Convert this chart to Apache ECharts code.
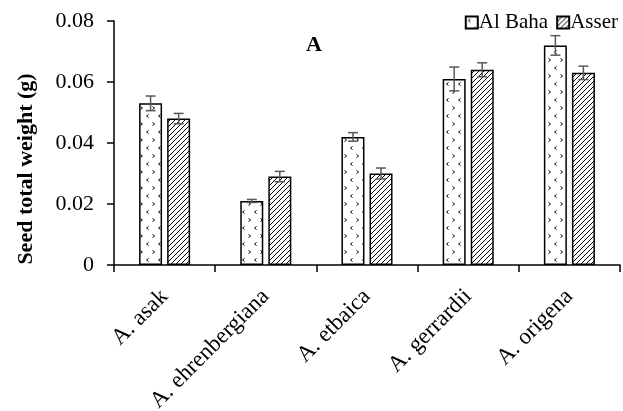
<!DOCTYPE html>
<html><head><meta charset="utf-8">
<script src="https://cdn.jsdelivr.net/npm/echarts@6/dist/echarts.min.js"></script>
<style>html,body{margin:0;padding:0;background:#fff}#c{width:623px;height:411px}</style>
</head><body><div id="c"></div>
<script>
var categories = ['A. asak', 'A. ehrenbergiana', 'A. etbaica', 'A. gerrardii', 'A. origena'];
var alBaha = [0.053, 0.021, 0.042, 0.061, 0.072];
var alBahaErr = [0.0024, 0.0005, 0.0014, 0.0039, 0.0032];
var asser = [0.048, 0.029, 0.030, 0.064, 0.063];
var asserErr = [0.0017, 0.0017, 0.0018, 0.0023, 0.0022];
var yTicks = [0, 0.02, 0.04, 0.06, 0.08];
var yTitle = 'Seed total weight (g)';
var panelLabel = 'A';

function dotPattern() {
  var c = document.createElement('canvas'); c.width = 12; c.height = 16;
  var g = c.getContext('2d'); g.fillStyle = '#fff'; g.fillRect(0, 0, 12, 16);
  g.strokeStyle = '#000'; g.lineWidth = 1;
  g.beginPath(); g.moveTo(4.5, 2.5); g.lineTo(2.5, 4); g.lineTo(4.5, 5.5); g.stroke();
  g.beginPath(); g.moveTo(8.5, 10.5); g.lineTo(10.5, 12); g.lineTo(8.5, 13.5); g.stroke();
  return c;
}
function hatchPattern() {
  var c = document.createElement('canvas'); c.width = 5; c.height = 5;
  var g = c.getContext('2d'); g.fillStyle = '#fff'; g.fillRect(0, 0, 5, 5);
  g.strokeStyle = '#000'; g.lineWidth = 1;
  g.beginPath(); g.moveTo(-1, 6); g.lineTo(6, -1); g.stroke();
  g.beginPath(); g.moveTo(-1, 1); g.lineTo(1, -1); g.stroke();
  g.beginPath(); g.moveTo(4, 6); g.lineTo(6, 4); g.stroke();
  return c;
}
var font = 'Liberation Serif, Times New Roman, serif';
var chart = echarts.init(document.getElementById('c'));

function errSeries(vals, errs, idx) {
  var data = vals.map(function (v, i) { return [i, v, errs[i]]; });
  return {
    type: 'custom', z: 10, silent: true,
    renderItem: function (params, api) {
      var i = api.value(0), v = api.value(1), e = api.value(2);
      var top = api.coord([i, v + e]), bot = api.coord([i, v - e]);
      var barW = 23, gap = 5;
      var x = top[0] + (idx === 0 ? -(barW + gap) / 2 : (barW + gap) / 2);
      var cap = 5;
      var st = { stroke: '#595959', lineWidth: 1.5 };
      return { type: 'group', children: [
        { type: 'line', shape: { x1: x, y1: top[1], x2: x, y2: bot[1] }, style: st },
        { type: 'line', shape: { x1: x - cap, y1: top[1], x2: x + cap, y2: top[1] }, style: st },
        { type: 'line', shape: { x1: x - cap, y1: bot[1], x2: x + cap, y2: bot[1] }, style: st }
      ]};
    },
    data: data
  };
}

chart.setOption({
  animation: false,
  textStyle: { fontFamily: font },
  grid: { left: 114, right: 3, top: 21, bottom: 146, containLabel: false, outerBoundsMode: 'none' },
  graphic: [
    { type: 'text', x: 26, y: 169, rotation: Math.PI / 2,
      style: { text: yTitle, fontFamily: font, fontSize: 22, fontWeight: 'bold', fill: '#000',
        align: 'center', verticalAlign: 'middle' } },
    { type: 'text', x: 314, y: 45,
      style: { text: panelLabel, fontFamily: font, fontSize: 22, fontWeight: 'bold', fill: '#000',
        align: 'center', verticalAlign: 'middle' } }
  ],
  legend: {
    right: 0, top: 7, itemWidth: 12, itemHeight: 12, itemGap: 8,
    textStyle: { fontFamily: font, fontSize: 21, color: '#000', padding: [0, 0, 0, -4] },
    data: [{ name: 'Al Baha', icon: 'rect' }, { name: 'Asser', icon: 'rect' }]
  },
  xAxis: {
    type: 'category', data: categories,
    axisLine: { lineStyle: { color: '#000', width: 1.5 } },
    axisTick: { show: true, length: 7, lineStyle: { color: '#000', width: 1.5 } },
    axisLabel: { rotate: 45, fontSize: 23, color: '#000', fontFamily: font, margin: 28, interval: 0 }
  },
  yAxis: {
    type: 'value', min: 0, max: 0.08, interval: 0.02,
    axisLine: { show: true, lineStyle: { color: '#000', width: 1.5 } },
    axisTick: { show: true, length: 7, lineStyle: { color: '#000', width: 1.5 } },
    splitLine: { show: false },
    axisLabel: { fontSize: 22, color: '#000', fontFamily: font, margin: 20,
      formatter: function (v) { return v === 0 ? '0' : v.toFixed(2); } }
  },
  series: [
    { name: 'Al Baha', type: 'bar', data: alBaha, barWidth: 23, barGap: '22%',
      itemStyle: { color: { image: dotPattern(), repeat: 'repeat' }, borderColor: '#000', borderWidth: 1.5 } },
    { name: 'Asser', type: 'bar', data: asser, barWidth: 23, barGap: '22%',
      itemStyle: { color: { image: hatchPattern(), repeat: 'repeat' }, borderColor: '#000', borderWidth: 1.5 } },
    errSeries(alBaha, alBahaErr, 0),
    errSeries(asser, asserErr, 1)
  ]
});
</script></body></html>
